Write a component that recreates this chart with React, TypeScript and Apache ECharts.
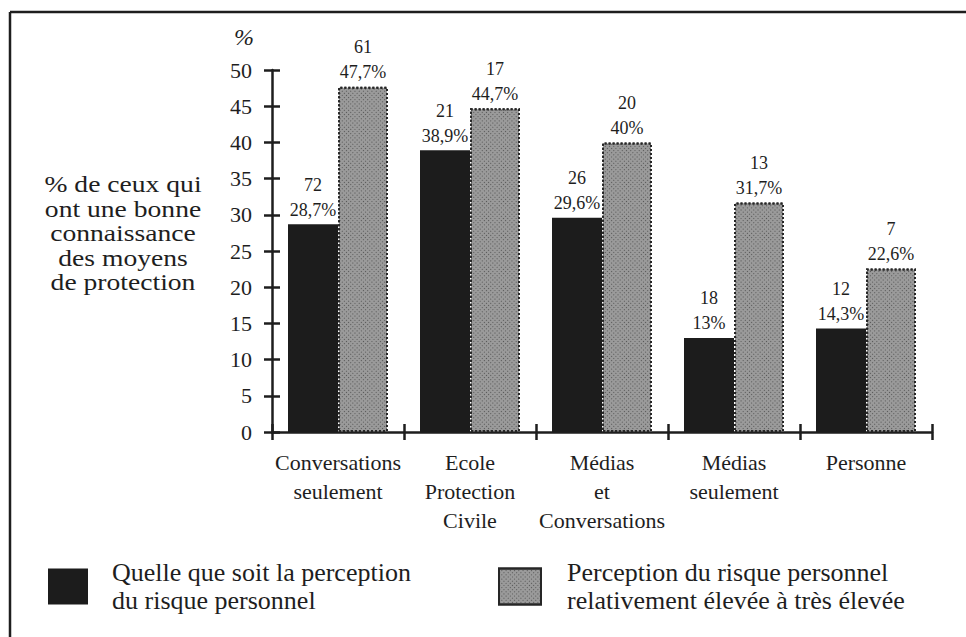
import React, { useEffect, useRef } from "react";
import * as echarts from "echarts";

const categories = [
  "Conversations\nseulement",
  "Ecole\nProtection\nCivile",
  "Médias\net\nConversations",
  "Médias\nseulement",
  "Personne",
];
const allPercent = [28.7, 38.9, 29.6, 13, 14.3];
const allCount = [72, 21, 26, 18, 12];
const highPercent = [47.7, 44.7, 40, 31.7, 22.6];
const highCount = [61, 17, 20, 13, 7];
const seriesNames = [
  "Quelle que soit la perception\ndu risque personnel",
  "Perception du risque personnel\nrelativement élevée à très élevée",
];
const yTitle = "% de ceux qui\nont une bonne\nconnaissance\ndes moyens\nde protection";
const yUnit = "%";

const FONT = "'Liberation Serif', 'Times New Roman', serif";
const INK = "#1e1e1e";

export default function App() {
  const ref = useRef<HTMLDivElement>(null);
  useEffect(() => {
    if (!ref.current) return;
    const chart = echarts.init(ref.current, null, { renderer: "svg" });
    const fmt = (counts: number[]) => (p: any) =>
      `${counts[p.dataIndex]}\n${String(p.value).replace(".", ",")}%`;
    const labelStyle = {
      show: true,
      position: "top",
      distance: 2,
      fontFamily: FONT,
      fontSize: 18,
      lineHeight: 25,
      color: INK,
    };
    const axisLine = { show: true, lineStyle: { color: INK, width: 2.5 } };
    const tickStyle = { color: INK, width: 2.5 };
    const legendText = {
      fontFamily: FONT,
      fontSize: 26,
      lineHeight: 27.5,
      color: INK,
    };
    chart.setOption({
      animation: false,
      backgroundColor: "#ffffff",
      textStyle: { fontFamily: FONT, color: INK },
      grid: { left: 272, right: 34, top: 70, bottom: 205, containLabel: false },
      xAxis: [
        {
          type: "category",
          data: categories,
          axisLine,
          axisTick: { show: false },
          axisLabel: {
            fontFamily: FONT,
            fontSize: 22,
            lineHeight: 29,
            color: INK,
            margin: 16,
            interval: 0,
          },
          splitLine: { show: false },
        },
        {
          type: "category",
          data: categories,
          position: "bottom",
          offset: -8,
          axisLine: { show: false },
          axisTick: { show: true, inside: false, length: 16, lineStyle: tickStyle },
          axisLabel: { show: false },
          splitLine: { show: false },
        },
      ],
      yAxis: [
        {
          type: "value",
          min: 0,
          max: 50,
          interval: 5,
          axisLine,
          axisTick: { show: false },
          axisLabel: { fontFamily: FONT, fontSize: 22, color: INK, margin: 20 },
          splitLine: { show: false },
        },
        {
          type: "value",
          min: 0,
          max: 50,
          interval: 5,
          position: "left",
          offset: -8,
          axisLine: { show: false },
          axisTick: { show: true, inside: false, length: 16, lineStyle: tickStyle },
          axisLabel: { show: false },
          splitLine: { show: false },
        },
      ],
      legend: [
        {
          left: 43,
          top: 554,
          data: [seriesNames[0]],
          icon: "rect",
          itemWidth: 40,
          itemHeight: 36,
          selectedMode: false,
          textStyle: { ...legendText, padding: [0, 0, 0, 19] },
        },
        {
          left: 493,
          top: 554,
          data: [seriesNames[1]],
          icon: "rect",
          itemWidth: 42,
          itemHeight: 36,
          selectedMode: false,
          textStyle: { ...legendText, padding: [0, 0, 0, 21] },
        },
      ],
      series: [
        {
          name: seriesNames[0],
          type: "bar",
          data: allPercent,
          barWidth: 50,
          barGap: "0%",
          itemStyle: { color: "#1c1c1c" },
          label: { ...labelStyle, formatter: fmt(allCount) },
        },
        {
          name: seriesNames[1],
          type: "bar",
          data: highPercent,
          barWidth: 50,
          barGap: "0%",
          itemStyle: {
            color: "#9a9a9a",
            borderColor: "#262626",
            borderWidth: 2,
            borderType: "dotted",
            decal: {
              symbol: "rect",
              symbolSize: 1,
              color: "rgba(40,40,40,0.6)",
              dashArrayX: [1, 2],
              dashArrayY: [1, 2],
              rotation: -Math.PI / 4,
            },
          },
          label: { ...labelStyle, formatter: fmt(highCount) },
        },
      ],
      graphic: [
        {
          type: "line",
          shape: { x1: 10, y1: 12, x2: 966, y2: 12 },
          style: { stroke: INK, lineWidth: 2.5 },
        },
        {
          type: "line",
          shape: { x1: 10, y1: 12, x2: 10, y2: 637 },
          style: { stroke: INK, lineWidth: 2.5 },
        },
        {
          type: "text",
          x: 244,
          y: 37,
          style: {
            text: yUnit,
            fontFamily: FONT,
            fontSize: 24,
            fontStyle: "italic",
            fill: INK,
            align: "center",
            verticalAlign: "middle",
          },
        },
        {
          type: "text",
          x: 123,
          y: 172,
          scaleX: 1.15,
          style: {
            text: yTitle,
            fontFamily: FONT,
            fontSize: 24,
            lineHeight: 24.5,
            fill: INK,
            align: "center",
            verticalAlign: "top",
          },
        },
      ],
    });
    return () => chart.dispose();
  }, []);
  return (
    <div
      ref={ref}
      style={{ position: "absolute", left: 0, top: 0, width: 966, height: 637 }}
    />
  );
}
